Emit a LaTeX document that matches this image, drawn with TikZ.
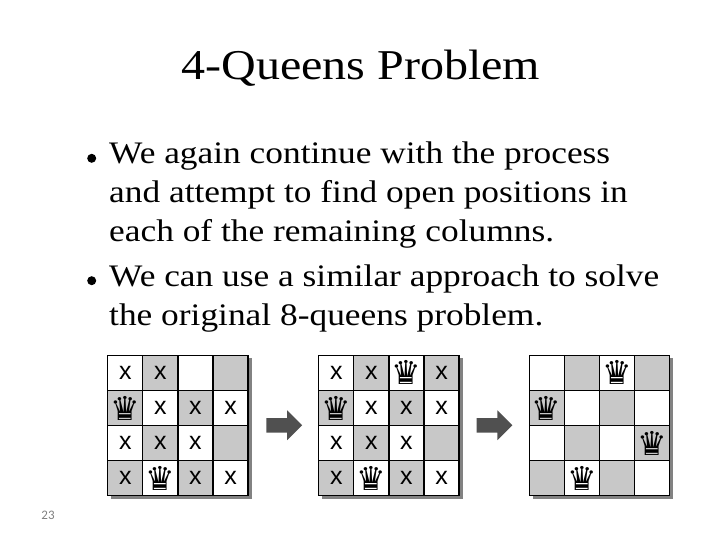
\documentclass[tikz,border=0pt]{standalone}
\usepackage{fontspec}
\setmainfont[FakeStretch=1.13]{Liberation Serif}
\newfontfamily\boardfont{Liberation Sans}
\newfontfamily\queenfont{DejaVu Sans}
\newfontfamily\pagefont{Carlito}
\usetikzlibrary{arrows.meta,positioning,shapes.arrows}
\definecolor{cellgray}{RGB}{200,200,200}
\definecolor{shadowgray}{RGB}{130,130,130}
\definecolor{slate}{RGB}{80,80,80}
\newcommand{\markx}{x}
\newcommand{\markq}{{\queenfont\fontsize{33}{33}\selectfont\symbol{"265B}}}
\newcommand{\marko}{}

\begin{document}
\begin{tikzpicture}[
  x=1pt,y=-1pt,
  cell/.style={draw=black,line width=1.3pt,minimum size=35.1pt,inner sep=0pt,
               font=\boardfont\fontsize{25}{25}\selectfont},
  cell0/.style={cell,fill=white},
  cell1/.style={cell,fill=cellgray},
  bullet/.style={circle,fill=black,inner sep=0pt,minimum size=9pt},
  body/.style={anchor=north west,align=left,inner sep=0pt,
               font=\fontsize{31.3}{38.8}\selectfont},
  bigarrow/.style={single arrow,fill=slate,inner xsep=0pt,inner ysep=7pt,
                   minimum width=29.5pt,minimum height=35.7pt,
                   single arrow head extend=7.7pt,single arrow head indent=0pt},
]
\useasboundingbox (0,0) rectangle (720,540);

% Title
\node[font=\fontsize{42.5}{42.5}\selectfont,anchor=base] (title) at (361,80) {4-Queens Problem};

% Text
\node[bullet] (b1) at (91.7,158.3) {};
\node[bullet] (b2) at (91.7,280.7) {};
\node[body] (t1) at (109,142) {We again continue with the process\\
  and attempt to find open positions in\\each of the remaining columns.};
\node[body] (t2) at (109,265) {We can use a similar approach to solve\\
  the original 8-queens problem.};

% Shadows
\fill[shadowgray] (111,358) rectangle (251.5,498.5);
\fill[shadowgray] (322,358) rectangle (462.5,498.5);
\fill[shadowgray] (532.5,358) rectangle (673,498.5);

% Boards
\foreach \bname/\bx/\marks in {
  a/107.7/{x,x,o,o,q,x,x,x,x,x,x,o,x,q,x,x},
  b/318.7/{x,x,q,x,q,x,x,x,x,x,x,o,x,q,x,x},
  c/529.2/{o,o,q,o,q,o,o,o,o,o,o,q,o,q,o,o}}{
  \foreach \m [count=\i from 0] in \marks {
    \pgfmathtruncatemacro\r{int(\i/4)}
    \pgfmathtruncatemacro\c{mod(\i,4)}
    \pgfmathtruncatemacro\shade{mod(\r+\c,2)}
    \node[cell\shade] (\bname\r\c) at (\bx+17.55+\c*35.1,355.3+17.55+\r*35.1)
      {\csname mark\m\endcsname};
  }
}

% Arrows
\node[bigarrow] (ab) at (280.6,425.3) {};
\node[bigarrow] (bc) at (490.9,425.3) {};

% Page number
\node[font=\pagefont\fontsize{13}{13}\selectfont,text=gray] (page) at (48,515) {23};
\end{tikzpicture}
\end{document}
